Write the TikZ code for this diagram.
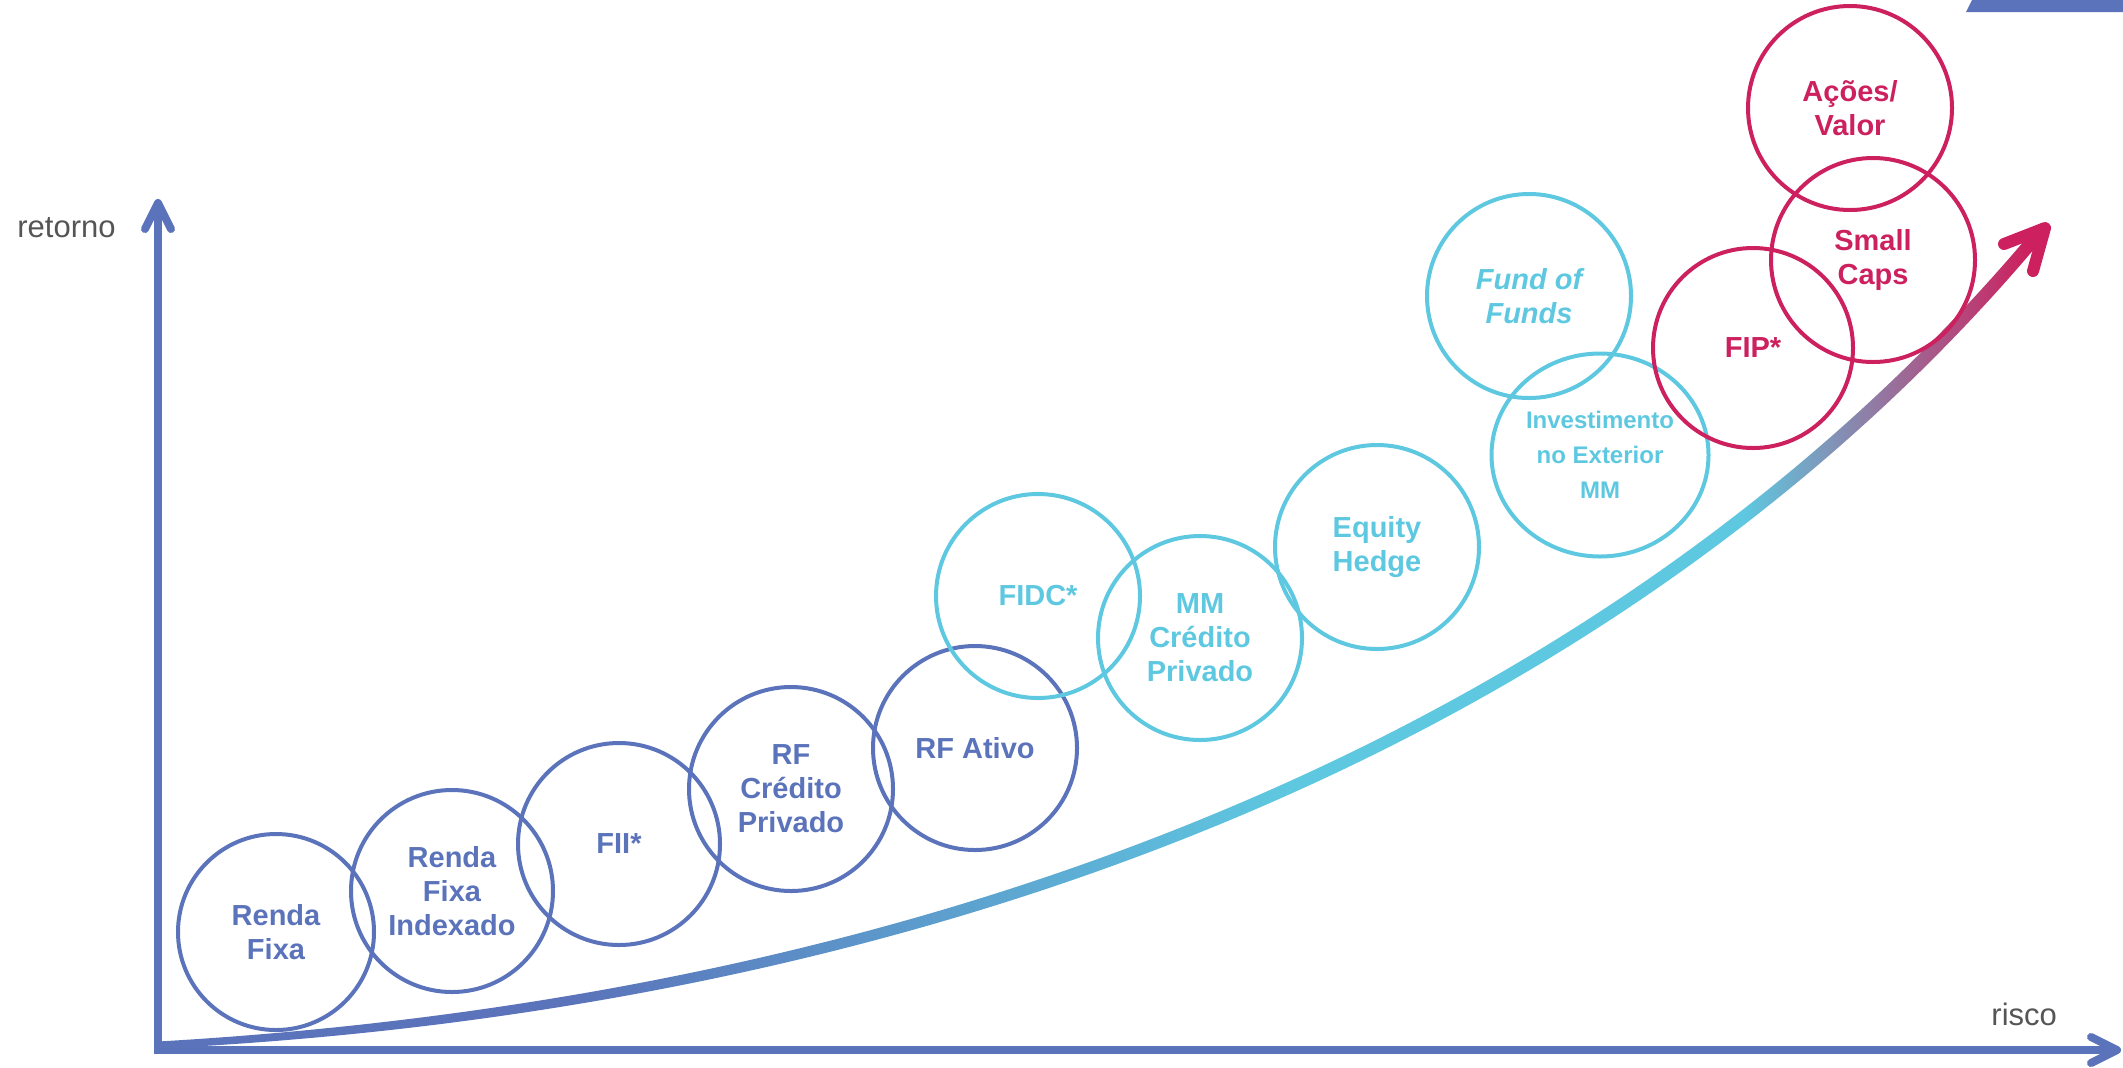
\documentclass[tikz,border=0pt]{standalone}
\usepackage{fontspec}
\setmainfont{Liberation Sans}
\usetikzlibrary{shapes.geometric}
\definecolor{cblue}{RGB}{91,115,186}
\definecolor{ccyan}{RGB}{94,200,224}
\definecolor{cmag}{RGB}{204,33,94}
\definecolor{cgray}{RGB}{85,85,85}
\pgfdeclarehorizontalshading{curvegrad}{100bp}{color(0bp)=(cblue); color(36bp)=(cblue); color(55bp)=(ccyan); color(67bp)=(ccyan); color(74.5bp)=(cmag); color(100bp)=(cmag)}
\begin{document}
\begin{tikzpicture}[x=0.5pt,y=-0.5pt,
  bubble/.style={circle, draw=#1, text=#1, line width=2pt, minimum size=102pt, inner sep=0pt, align=center, font=\fontsize{14.5}{17}\selectfont\bfseries},
  axisline/.style={draw=cblue, line width=4pt, line join=miter},
  tipline/.style={draw=cblue, line width=4pt, line cap=round, line join=round},
  chevron/.style={draw=cmag, line width=6pt, line cap=round, line join=round},
  axislabel/.style={text=cgray, font=\fontsize{15.5}{18}\selectfont, inner sep=0pt, anchor=base west}]
\useasboundingbox (0,0) rectangle (2123,1067);
% top-right bar
\fill[cblue] (1966,12) -- (1972,0) -- (2123,0) -- (2123,12) -- cycle;
% axes
\coordinate (O) at (158,1050);
\coordinate (ytip) at (158,203);
\coordinate (xtip) at (2117,1050);
\draw[axisline] (ytip) -- (O) -- (xtip);
\draw[tipline] (ytip) ++(-13,26) -- (ytip) -- ++(13,26);
\draw[tipline] (xtip) ++(-26,-13) -- (xtip) -- ++(-26,13);
\node[axislabel] (ylab) at (17,237) {retorno};
\node[axislabel] (xlab) at (1991,1025) {risco};
% gradient curve
\coordinate (ctip) at (2045,228);
\shade[shading=curvegrad] (158,1041.5) .. controls (999.6,993) and (1644.6,695.5) .. (2035,228)
  -- (2045,236) .. controls (1655.4,704.5) and (1000.4,1007) .. (158,1048.5) -- cycle;
\draw[chevron] (ctip) ++(-41,16) -- (ctip) -- ++(-12,43);
% bubbles
\node[bubble=cblue, minimum size=98pt] (rf) at (276,932) {Renda\\Fixa};
\node[bubble=cblue, minimum size=101pt] (rfi) at (452,891) {Renda\\Fixa\\Indexado};
\node[bubble=cblue, minimum size=101pt] (fii) at (619,844) {FII*};
\node[bubble=cblue] (rfcp) at (791,789) {RF\\Crédito\\Privado};
\node[bubble=cblue] (rfa) at (975,748) {RF Ativo};
\node[bubble=ccyan] (fidc) at (1038,596) {FIDC*};
\node[bubble=ccyan] (mmcp) at (1200,638) {MM\\Crédito\\Privado};
\node[bubble=ccyan] (eh) at (1377,547) {Equity\\Hedge};
\node[bubble=ccyan, font=\fontsize{14.5}{17}\selectfont\bfseries\itshape] (fof) at (1529,296) {Fund of\\Funds};
\node[bubble=ccyan, ellipse, minimum width=108.5pt, minimum height=101.5pt, font=\fontsize{12}{17.5}\selectfont\bfseries] (inv) at (1600,455) {Investimento\\no Exterior\\MM};
\node[bubble=cmag, minimum size=100pt] (fip) at (1753,348) {FIP*};
\node[bubble=cmag] (sc) at (1873,260) {Small\\Caps};
\node[bubble=cmag] (acoes) at (1850,108) {Ações/\\Valor};
\end{tikzpicture}
\end{document}
